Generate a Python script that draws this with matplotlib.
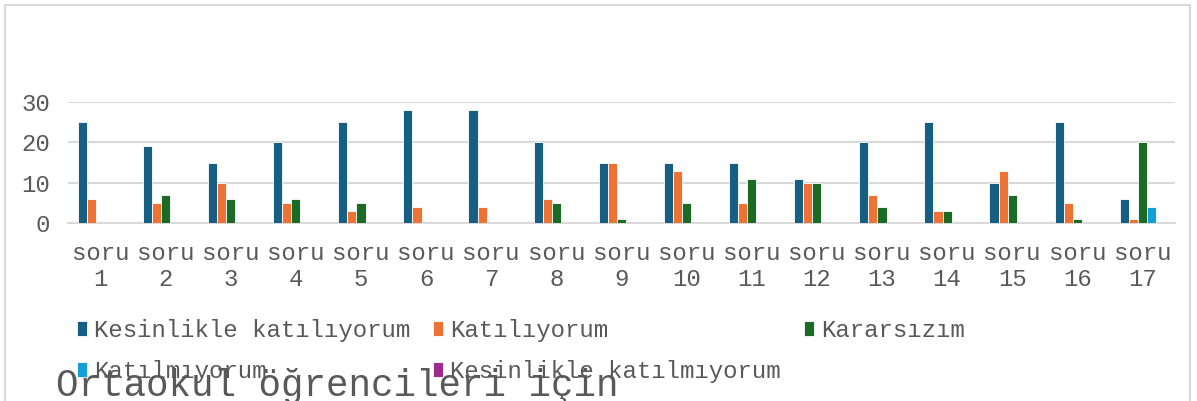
import numpy as np
import matplotlib.pyplot as plt
from matplotlib.patches import Rectangle

# data
questions = [f"soru\n{i}" for i in range(1, 18)]
kesinlikle_katiliyorum = [25, 19, 15, 20, 25, 28, 28, 20, 15, 15, 15, 11, 20, 25, 10, 25, 6]
katiliyorum = [6, 5, 10, 5, 3, 4, 4, 6, 15, 13, 5, 10, 7, 3, 13, 5, 1]
kararsizim = [0, 7, 6, 6, 5, 0, 0, 5, 1, 5, 11, 10, 4, 3, 7, 1, 20]
katilmiyorum = [0, 0, 0, 0, 0, 0, 0, 0, 0, 0, 0, 0, 0, 0, 0, 0, 4]
kesinlikle_katilmiyorum = [0] * 17

series_names = ["Kesinlikle katılıyorum", "Katılıyorum", "Kararsızım",
                "Katılmıyorum", "Kesinlikle katılmıyorum"]
series_vals = [kesinlikle_katiliyorum, katiliyorum, kararsizim,
               katilmiyorum, kesinlikle_katilmiyorum]
colors = ["#175e83", "#ed7233", "#1b6b27", "#149fd8", "#9c2c8e"]

plt.rcParams["font.family"] = ["Liberation Mono", "DejaVu Sans Mono"]
text_col = "#595959"
fs = 17.3

fig = plt.figure(figsize=(11.97, 4.01), dpi=100)
ax = fig.add_axes([0.0568, 0.4439, 0.9816 - 0.0568, 0.7456 - 0.4439])

x = np.arange(len(questions))
bw = 0.14
handles = []
for i, (name, vals, c) in enumerate(zip(series_names, series_vals, colors)):
    b = ax.bar(x + (i - 2) * bw, vals, bw, color=c, edgecolor="white",
               linewidth=0.6, label=name, zorder=3)
    handles.append(b)

ax.set_xlim(-0.5, len(questions) - 0.5)
ax.set_ylim(0, 30)
ax.set_yticks([0, 10, 20, 30])
ax.set_xticks(x)
ax.set_xticklabels(questions, linespacing=1.15)
ax.grid(axis="y", color="#d9d9d9", linewidth=1.5, zorder=0)
for s in ["top", "right", "left"]:
    ax.spines[s].set_visible(False)
ax.spines["bottom"].set_color("#d9d9d9")
ax.spines["bottom"].set_linewidth(1.5)
ax.tick_params(axis="both", length=0, labelsize=fs, labelcolor=text_col)
ax.tick_params(axis="y", pad=13)
ax.tick_params(axis="x", pad=14)

# legend: row-wise order in three columns
order = [0, 3, 1, 4, 2]
leg = fig.legend([handles[k] for k in order], [series_names[k] for k in order],
                 ncol=3, loc="upper left", bbox_to_anchor=(0.064, 0.205),
                 bbox_transform=fig.transFigure, frameon=False, fontsize=fs,
                 handlelength=0.42, handleheight=0.55, handletextpad=0.3,
                 columnspacing=0.95, labelspacing=0.75, borderpad=0, borderaxespad=0)
for t in leg.get_texts():
    t.set_color(text_col)

fig.text(0.047, 0.012, "Ortaokul öğrencileri için", fontsize=27, color=text_col,
         va="baseline", ha="left")

# chart area border
fig.patches.append(Rectangle((0.004, -0.05), 0.99, 1.037, transform=fig.transFigure,
                             fill=False, edgecolor="#d9d9d9", linewidth=1.5))

fig.savefig("out.png", dpi=100, facecolor="white")
